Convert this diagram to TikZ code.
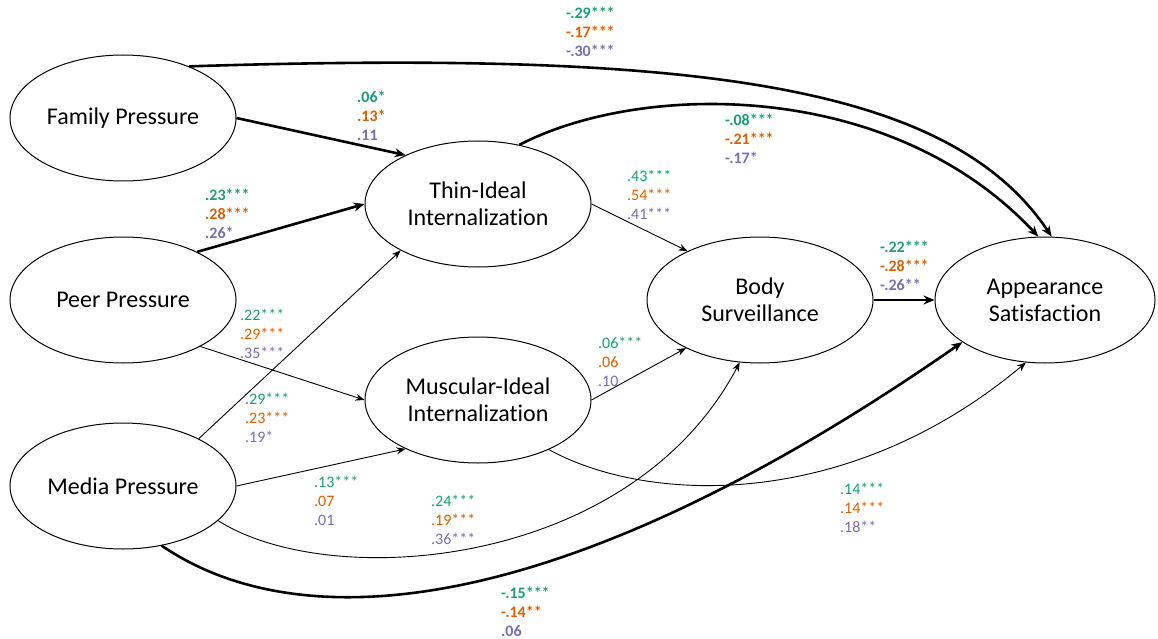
\documentclass[tikz,border=0pt]{standalone}
\usepackage{fontspec}
\setmainfont{Carlito}[Ligatures=NoCommon]
\usetikzlibrary{arrows.meta,shapes.geometric}
\definecolor{gr}{RGB}{27,158,119}
\definecolor{og}{RGB}{217,95,2}
\definecolor{pu}{RGB}{117,112,179}
\tikzset{
  lat/.style={draw,ellipse,line width=1pt,minimum width=226pt,minimum height=126pt,
    inner sep=0pt,align=center,font=\fontsize{24}{27}\selectfont},
  arr/.style={-{Stealth[length=9pt,width=7pt]},line width=0.9pt},
  arrb/.style={-{Stealth[length=11pt,width=9pt]},line width=2.6pt},
  est/.style={anchor=west,align=left,inner sep=0pt,font=\fontsize{16}{19}\selectfont},
  estb/.style={est,font=\fontsize{16}{19}\selectfont\bfseries},
}
\newcommand{\trio}[3]{\textcolor{gr}{#1}\\\textcolor{og}{#2}\\\textcolor{pu}{#3}}

\begin{document}
\begin{tikzpicture}[x=1pt,y=-1pt]
  \useasboundingbox (0,0) rectangle (1158,639);
  \node[lat] (fam) at (123,118) {Family Pressure};
  \node[lat] (peer) at (123,300) {Peer Pressure};
  \node[lat] (med) at (123,486) {Media Pressure};
  \node[lat] (thin) at (478,204) {Thin-Ideal\\Internalization};
  \node[lat] (musc) at (478,400) {Muscular-Ideal\\Internalization};
  \node[lat] (body) at (760,300) {Body\\Surveillance};
  \node[lat,minimum width=220pt] (app) at (1045,300) {Appearance\\Satisfaction};
  \draw[arrb] (fam.east) -- (thin.146);
  \draw[arrb] (peer.33) -- (thin.west);
  \draw[arr] (med.32) -- (thin.211);
  \draw[arr] (peer.-31) -- (musc.west);
  \draw[arr] (med.east) -- (musc.214);
  \draw[arr] (thin.east) -- (body.146);
  \draw[arr] (musc.east) -- (body.213);
  \draw[arrb] (body.east) -- (app.west);
  \draw[arrb] (fam.38) .. controls (700,50) and (950,85) .. (app.84);
  \draw[arrb] (thin.55) .. controls (640,82) and (890,78) .. (app.96);
  \draw[arr] (musc.-35) .. controls (650,505) and (850,510) .. (app.253);
  \draw[arr] (med.-20) .. controls (330,592) and (630,570) .. (body.252);
  \draw[arrb] (med.-57) .. controls (300,640) and (560,622) .. (app.207);
  \node[estb] (e1) at (566,32) {\trio{-.29***}{-.17***}{-.30***}};
  \node[estb] (e2) at (357,116) {\trio{.06*}{.13*}{.11}};
  \node[estb] (e3) at (205,214) {\trio{.23***}{.28***}{.26*}};
  \node[est] (e4) at (627,195) {\trio{.43***}{.54***}{.41***}};
  \node[estb] (e5) at (725,139) {\trio{-.08***}{-.21***}{-.17*}};
  \node[estb] (e6) at (880,266) {\trio{-.22***}{-.28***}{-.26**}};
  \node[est] (e7) at (240,334) {\trio{.22***}{.29***}{.35***}};
  \node[est] (e8) at (245,418) {\trio{.29***}{.23***}{.19*}};
  \node[est] (e9) at (598,362) {\trio{.06***}{.06}{.10}};
  \node[est] (e10) at (314,501) {\trio{.13***}{.07}{.01}};
  \node[est] (e11) at (431,520) {\trio{.24***}{.19***}{.36***}};
  \node[est] (e12) at (840,508) {\trio{.14***}{.14***}{.18**}};
  \node[estb] (e13) at (501,612) {\trio{-.15***}{-.14**}{.06}};
\end{tikzpicture}
\end{document}
